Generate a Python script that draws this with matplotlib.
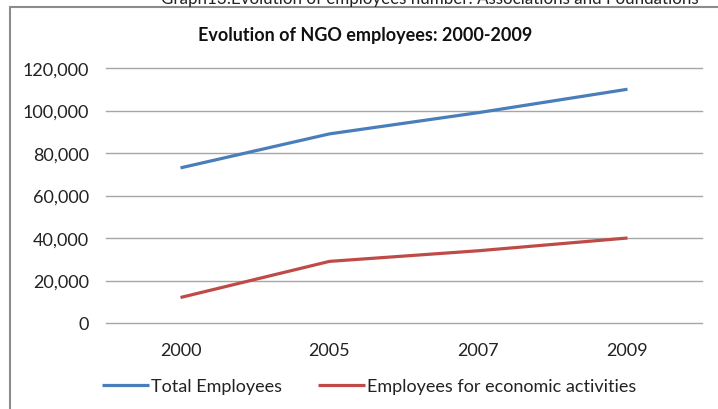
import matplotlib.pyplot as plt
from matplotlib.patches import Rectangle
from matplotlib.ticker import FuncFormatter

YEARS = ['2000', '2005', '2007', '2009']
TOTAL = [73000, 89000, 99000, 110000]
ECONOMIC = [12000, 29000, 34000, 40000]
SERIES_NAMES = ['Total Employees', 'Employees for economic activities']

plt.rcParams['font.family'] = ['Lato', 'DejaVu Sans']

W, H = 718, 410
fig = plt.figure(figsize=(W / 100, H / 100), dpi=100)

# chart frame, cut by the page edge on the right and bottom
fig.patches.append(Rectangle((10 / W, -0.1), 1.2, 1 - 8 / H + 0.1,
                             transform=fig.transFigure, fill=False,
                             edgecolor='#8c8c8c', linewidth=1.5))

# caption above the frame, only its lower part shows
fig.text(430 / W, 1 - 4 / H,
         'Graph13:Evolution of employees number: Associations and Foundations',
         ha='center', va='baseline', fontsize=12.2, color='#222222')

fig.text(365 / W, 1 - 35 / H, 'Evolution of NGO employees: 2000-2009',
         ha='center', va='center', fontsize=13, fontweight='bold', color='#111111')

ax = fig.add_axes([106 / W, 86 / H, 596 / W, 255 / H])
x = range(len(YEARS))
ax.plot(x, TOTAL, color='#4a7ebb', linewidth=2.3, label=SERIES_NAMES[0],
        solid_capstyle='butt')
ax.plot(x, ECONOMIC, color='#be4b48', linewidth=2.3, label=SERIES_NAMES[1],
        solid_capstyle='butt')

ax.set_xlim(-0.5, len(YEARS) - 0.5)
ax.set_ylim(0, 120000)
ax.set_yticks(range(0, 120001, 20000))
ax.yaxis.set_major_formatter(FuncFormatter(lambda v, _: f'{int(v):,}'))
ax.set_xticks(list(x))
ax.set_xticklabels(YEARS)
ax.tick_params(length=0, labelsize=13, colors='#222222')
ax.tick_params(axis='y', pad=12)
ax.tick_params(axis='x', pad=14)
ax.grid(axis='y', color='#a6a6a6', linewidth=1)
for g in ax.get_ygridlines():
    g.set_clip_on(False)
ax.set_axisbelow(True)
for s in ax.spines.values():
    s.set_visible(False)

leg = fig.legend(loc='center', bbox_to_anchor=(369 / W, 1 - 387 / H), ncol=2,
                 frameon=False, fontsize=13, handlelength=2.6,
                 handletextpad=0.1, columnspacing=2.0)
for t in leg.get_texts():
    t.set_color('#222222')

fig.savefig('out.png', dpi=100)
